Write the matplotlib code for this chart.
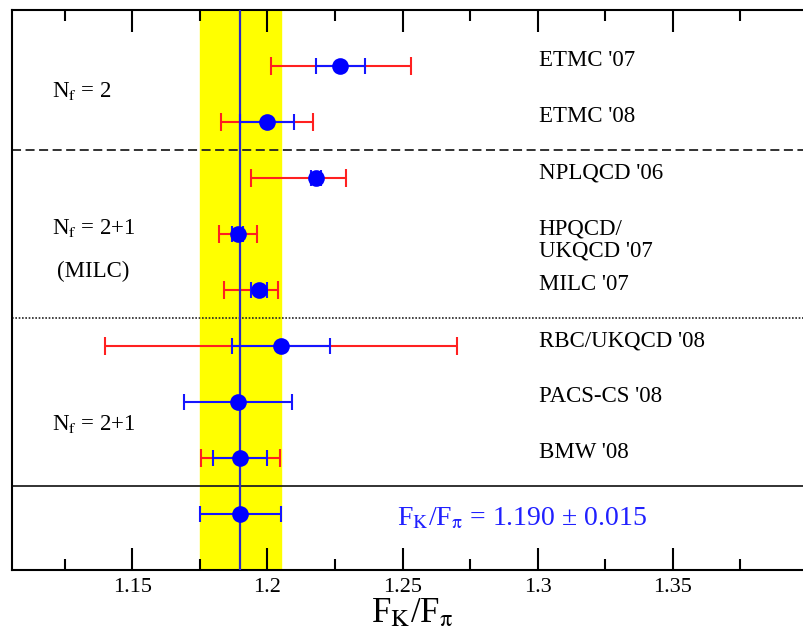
import numpy as np
import matplotlib
matplotlib.use("Agg")
import matplotlib.pyplot as plt
from matplotlib.ticker import MultipleLocator

plt.rcParams['font.family'] = ['Liberation Serif', 'DejaVu Serif']
plt.rcParams['mathtext.fontset'] = 'stix'

# lattice results, top to bottom
labels = ["ETMC '07", "ETMC '08", "NPLQCD '06", "HPQCD/\nUKQCD '07", "MILC '07",
          "RBC/UKQCD '08", "PACS-CS '08", "BMW '08", ""]
central = [1.227, 1.200, 1.218, 1.189, 1.197, 1.205, 1.189, 1.190, 1.190]
stat_err = [0.009, 0.010, 0.002, 0.002, 0.003, 0.018, 0.020, 0.010, 0.015]
tot_lo = [0.0255, 0.017, 0.024, 0.007, 0.013, 0.065, np.nan, 0.0145, np.nan]
tot_hi = [0.026, 0.017, 0.011, 0.007, 0.007, 0.065, np.nan, 0.0145, np.nan]

groups = [r"N$_\mathrm{f}$ = 2", r"N$_\mathrm{f}$ = 2+1", "(MILC)", r"N$_\mathrm{f}$ = 2+1"]
group_y = [1.55, 4.0, 4.77, 7.5]
group_x = [1.1203, 1.1203, 1.122, 1.1203]

average = 1.190
average_err = 0.015

rows = np.arange(1, len(central) + 1)
central = np.array(central)
tot_lo = np.array(tot_lo)
tot_hi = np.array(tot_hi)
has_tot = ~np.isnan(tot_lo)

fig = plt.figure(figsize=(8.04, 6.37), dpi=100)
ax = fig.add_axes([12 / 804, 1 - 570 / 637, 1 - 12 / 804 + 0.01, 560 / 637])
ax.set_xlim(1.1055, 1.4015)
ax.set_ylim(10, 0)

ax.axvspan(average - average_err, average + average_err, color='#ffff00', zorder=0)
ax.axvline(average, color='#2a2ac8', lw=1.6, zorder=3)

ax.axhline(2.5, color='#222222', lw=1.3, ls=(0, (5, 2.5)), zorder=1)
ax.axhline(5.5, color='#222222', lw=1.2, ls=(0, (1, 1)), zorder=1)
ax.axhline(8.5, color='#222222', lw=1.3, zorder=1)

ax.errorbar(central[has_tot], rows[has_tot],
            xerr=[tot_lo[has_tot], tot_hi[has_tot]],
            fmt='none', ecolor='#ff2020', elinewidth=1.5, capsize=6.5, capthick=1.5, zorder=2)
ax.errorbar(central, rows, xerr=stat_err, fmt='none', ecolor='#1515ff',
            elinewidth=1.5, capsize=6, capthick=1.5, zorder=4)
ax.plot(central, rows, 'o', color='#0000ff', ms=12, mec='none', zorder=5)

for y, lab in zip(rows, labels):
    for k, line in enumerate(lab.split("\n")):
        ax.text(1.3004, y + 0.4 * k, line, fontsize=16.5, va='baseline', ha='left')

for x, y, g in zip(group_x, group_y, groups):
    ax.text(x, y, g, fontsize=16.5, va='baseline', ha='left')

ax.text(1.2481, 9.2, r"F$_\mathrm{K}$/F$_\mathrm{\pi}$ = %.3f ± %.3f" % (average, average_err),
        color='#2020ff', fontsize=20, va='baseline', ha='left')

ax.xaxis.set_major_locator(MultipleLocator(0.05))
ax.xaxis.set_minor_locator(MultipleLocator(0.025))
ax.set_xticks([1.15, 1.2, 1.25, 1.3, 1.35])
ax.set_xticklabels(['1.15', '1.2', '1.25', '1.3', '1.35'])
ax.tick_params(axis='x', which='both', direction='in', top=True, width=1.5, labelsize=16, pad=6)
ax.tick_params(axis='x', which='major', length=16)
ax.tick_params(axis='x', which='minor', length=8)
ax.set_yticks([])
for s in ax.spines.values():
    s.set_linewidth(1.5)
ax.spines['right'].set_visible(False)

ax.set_xlabel(r"F$_\mathrm{K}$/F$_\mathrm{\pi}$", fontsize=25, labelpad=0)

fig.savefig("out.png", dpi=100)
